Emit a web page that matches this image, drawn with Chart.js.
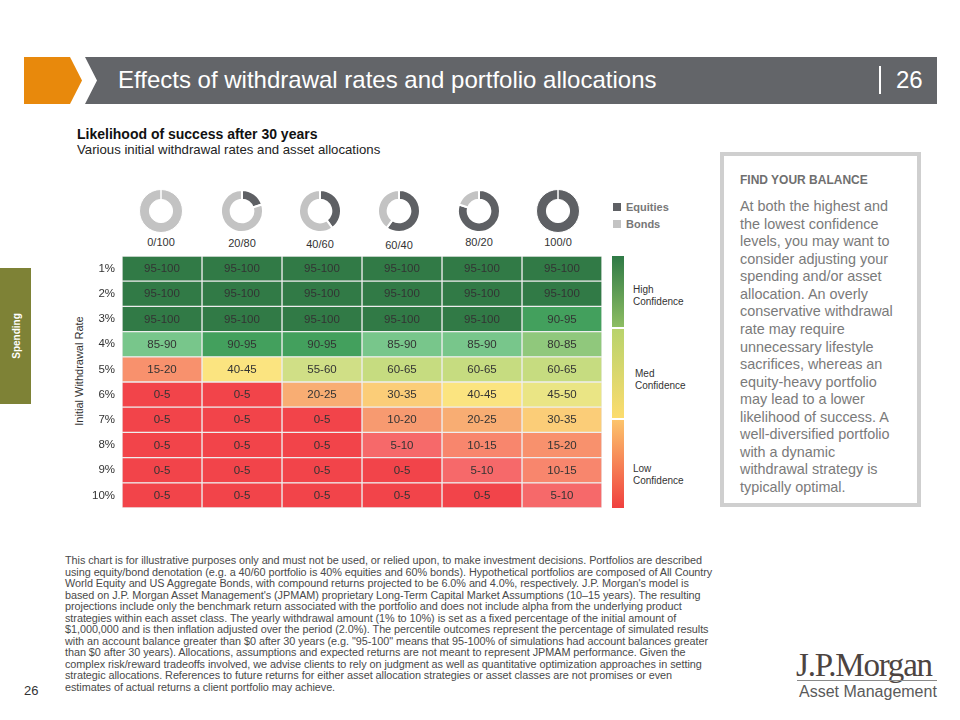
<!DOCTYPE html>
<html>
<head>
<meta charset="utf-8">
<script src="https://cdn.jsdelivr.net/npm/chart.js@4/dist/chart.umd.min.js"></script>
<style>
  html, body { margin:0; padding:0; background:#fff; }
  body { width:960px; height:720px; position:relative; overflow:hidden; font-family:"Liberation Sans", Arial, sans-serif; }
  .abs { position:absolute; white-space:nowrap; }
  #orange { left:24px; top:57px; width:58px; height:47px; background:#e8890c;
            clip-path: polygon(0 0, 46px 0, 58px 23.5px, 46px 47px, 0 47px); }
  #graybar { left:85px; top:57px; width:852px; height:47px; background:#636569;
            clip-path: polygon(0 0, 852px 0, 852px 47px, 0 47px, 12px 23.5px); }
  #htitle { left:118px; top:65px; font-size:24px; line-height:30px; color:#fff; }
  #hsep { left:879px; top:66px; width:2px; height:28px; background:#fff; }
  #hnum { left:896px; top:65px; font-size:24px; line-height:30px; color:#fff; }
  #tab { left:0; top:268px; width:31px; height:136px; background:#7e8236; }
  #tabtxt { left:16px; top:336px; transform:translate(-50%,-50%) rotate(-90deg); color:#fff; font-weight:bold; font-size:10px; }
  #ctitle { left:77px; top:126px; font-size:14px; font-weight:bold; color:#111; line-height:17px; }
  #csub { left:77px; top:141px; font-size:13.2px; color:#222; line-height:17px; }
  .donut { position:absolute; width:44px; height:44px; }
  .dlabel { position:absolute; font-size:11px; color:#333; transform:translateX(-50%); white-space:nowrap; line-height:13px; }
  .leg { position:absolute; font-size:11px; font-weight:bold; color:#777; line-height:13px; }
  .sq { position:absolute; width:8px; height:8px; }
  #ytitle { left:79px; top:371px; transform:translate(-50%,-50%) rotate(-90deg); font-size:11px; color:#333; }
  #heat { position:absolute; left:70px; top:256px; }
  .gseg { position:absolute; left:612px; width:12px; }
  .conf { position:absolute; font-size:10px; color:#333; line-height:11.5px; }
  #box { left:720px; top:152px; width:193px; height:347px; border:4px solid #cfcfcf; }
  #boxtitle { left:740px; top:173px; font-size:12px; font-weight:bold; color:#6f6f6f; line-height:14px; }
  #boxtxt { left:740px; top:198px; font-size:14.4px; color:#7a7a7a; line-height:17.56px; }
  #foot { left:65px; top:555px; font-size:10.85px; color:#4a4a4a; line-height:11.55px; letter-spacing:-0.05px; }
  #pnum { left:24px; top:683px; font-size:13px; color:#333; }
  #logo1 { left:796px; top:648px; font-family:"Liberation Serif","DejaVu Serif",serif; font-size:33px; color:#4d4441; letter-spacing:-1.2px; line-height:34px; }
  #logoline { left:797px; top:680px; width:140px; height:1px; background:#8a8a8a; }
  #logo2 { left:799px; top:683px; font-size:16px; color:#5a5a5a; line-height:18px; }
</style>
</head>
<body>
<div id="orange" class="abs"></div>
<div id="graybar" class="abs"></div>
<div id="htitle" class="abs">Effects of withdrawal rates and portfolio allocations</div>
<div id="hsep" class="abs"></div>
<div id="hnum" class="abs">26</div>
<div id="tab" class="abs"></div>
<div id="tabtxt" class="abs">Spending</div>
<div id="ctitle" class="abs">Likelihood of success after 30 years</div>
<div id="csub" class="abs">Various initial withdrawal rates and asset allocations</div>
<div id="ytitle" class="abs">Initial Withdrawal Rate</div>

<div class="sq" style="left:613px;top:203px;background:#5e6064"></div>
<div class="leg" style="left:626px;top:201px">Equities</div>
<div class="sq" style="left:613px;top:220px;background:#c3c3c3"></div>
<div class="leg" style="left:626px;top:218px">Bonds</div>

<div class="gseg" style="top:256px;height:71px;background:linear-gradient(#2f7a46,#8dbd62)"></div>
<div class="gseg" style="top:329px;height:89px;background:linear-gradient(#b8d36c,#fcdc6e)"></div>
<div class="gseg" style="top:420px;height:88px;background:linear-gradient(#fcc46c,#f0403f)"></div>
<div class="conf" style="left:633px;top:284px">High<br>Confidence</div>
<div class="conf" style="left:635px;top:368px">Med<br>Confidence</div>
<div class="conf" style="left:633px;top:463px">Low<br>Confidence</div>

<canvas id="heat" width="532" height="252"></canvas>

<div id="box" class="abs"></div>
<div id="boxtitle" class="abs">FIND YOUR BALANCE</div>
<div id="boxtxt" class="abs">At both the highest and<br>the lowest confidence<br>levels, you may want to<br>consider adjusting your<br>spending and/or asset<br>allocation. An overly<br>conservative withdrawal<br>rate may require<br>unnecessary lifestyle<br>sacrifices, whereas an<br>equity-heavy portfolio<br>may lead to a lower<br>likelihood of success. A<br>well-diversified portfolio<br>with a dynamic<br>withdrawal strategy is<br>typically optimal.</div>

<div id="foot" class="abs">This chart is for illustrative purposes only and must not be used, or relied upon, to make investment decisions. Portfolios are described<br>using equity/bond denotation (e.g. a 40/60 portfolio is 40% equities and 60% bonds). Hypothetical portfolios are composed of All Country<br>World Equity and US Aggregate Bonds, with compound returns projected to be 6.0% and 4.0%, respectively. J.P. Morgan's model is<br>based on J.P. Morgan Asset Management's (JPMAM) proprietary Long-Term Capital Market Assumptions (10–15 years). The resulting<br>projections include only the benchmark return associated with the portfolio and does not include alpha from the underlying product<br>strategies within each asset class. The yearly withdrawal amount (1% to 10%) is set as a fixed percentage of the initial amount of<br>$1,000,000 and is then inflation adjusted over the period (2.0%). The percentile outcomes represent the percentage of simulated results<br>with an account balance greater than $0 after 30 years (e.g. "95-100" means that 95-100% of simulations had account balances greater<br>than $0 after 30 years). Allocations, assumptions and expected returns are not meant to represent JPMAM performance. Given the<br>complex risk/reward tradeoffs involved, we advise clients to rely on judgment as well as quantitative optimization approaches in setting<br>strategic allocations. References to future returns for either asset allocation strategies or asset classes are not promises or even<br>estimates of actual returns a client portfolio may achieve.</div>

<div id="pnum" class="abs">26</div>
<div id="logo1" class="abs">J.P.Morgan</div>
<div id="logoline" class="abs"></div>
<div id="logo2" class="abs">Asset Management</div>

<script>
// ---- data ----
const allocations = ['0/100', '20/80', '40/60', '60/40', '80/20', '100/0'];
const equityShare = [0, 20, 40, 60, 80, 100];
const bondShare = [100, 80, 60, 40, 20, 0];
const withdrawalRates = ['1%', '2%', '3%', '4%', '5%', '6%', '7%', '8%', '9%', '10%'];
const success0_100  = ['95-100', '95-100', '95-100', '85-90', '15-20', '0-5', '0-5', '0-5', '0-5', '0-5'];
const success20_80  = ['95-100', '95-100', '95-100', '90-95', '40-45', '0-5', '0-5', '0-5', '0-5', '0-5'];
const success40_60  = ['95-100', '95-100', '95-100', '90-95', '55-60', '20-25', '0-5', '0-5', '0-5', '0-5'];
const success60_40  = ['95-100', '95-100', '95-100', '85-90', '60-65', '30-35', '10-20', '5-10', '0-5', '0-5'];
const success80_20  = ['95-100', '95-100', '95-100', '85-90', '60-65', '40-45', '20-25', '10-15', '5-10', '0-5'];
const success100_0  = ['95-100', '95-100', '90-95', '80-85', '60-65', '45-50', '30-35', '15-20', '10-15', '5-10'];
const successByAllocation = [success0_100, success20_80, success40_60, success60_40, success80_20, success100_0];

// ---- styles ----
const rangeColors = {
  '95-100': '#317a46', '90-95': '#43a05d', '85-90': '#78c68b', '80-85': '#90c87c',
  '60-65': '#c6dc80', '55-60': '#d0df86', '45-50': '#eae585', '40-45': '#fbe480',
  '30-35': '#fbcd78', '20-25': '#f8ad73', '15-20': '#f8916d', '10-20': '#f79a70',
  '10-15': '#f8866d', '5-10': '#f6696a', '0-5': '#f2444a'
};
const FONT = '"Liberation Sans", Arial, sans-serif';
Chart.defaults.font.family = FONT;

// ---- donuts ----
const donutCenters = [161, 242, 320, 399, 479, 558];
const labelTops = [236, 237, 238, 239, 236, 236];
allocations.forEach((a, i) => {
  const c = document.createElement('canvas');
  c.className = 'donut';
  c.width = 44; c.height = 44;
  c.style.left = (donutCenters[i] - 22) + 'px';
  c.style.top = (211 - 22) + 'px';
  document.body.appendChild(c);
  new Chart(c, {
    type: 'doughnut',
    data: { labels: ['Equities', 'Bonds'],
      datasets: [{ data: [equityShare[i], bondShare[i]], backgroundColor: ['#5e6064', '#c3c3c3'],
                   borderColor: '#ffffff', borderWidth: bondShare[i] === 0 || equityShare[i] === 0 ? 1 : 2 }] },
    options: { responsive: false, animation: false, cutout: '54%',
      plugins: { legend: { display: false }, tooltip: { enabled: false } } }
  });
  const l = document.createElement('div');
  l.className = 'dlabel';
  l.textContent = a;
  l.style.left = donutCenters[i] + 'px';
  l.style.top = labelTops[i] + 'px';
  document.body.appendChild(l);
});

// ---- heatmap ----
const cellLabels = {
  id: 'cellLabels',
  afterDatasetsDraw(chart) {
    const ctx = chart.ctx;
    ctx.save();
    ctx.font = '11.5px ' + FONT;
    ctx.fillStyle = '#333';
    ctx.textAlign = 'center';
    ctx.textBaseline = 'middle';
    chart.data.datasets.forEach((ds, di) => {
      chart.getDatasetMeta(di).data.forEach((el, ri) => {
        const p = el.getCenterPoint();
        ctx.fillText(ds.labelsText[ri], p.x, p.y + 0.5);
      });
    });
    ctx.restore();
  }
};

new Chart(document.getElementById('heat'), {
  type: 'bar',
  data: {
    labels: withdrawalRates,
    datasets: successByAllocation.map((vals, c) => ({
      label: allocations[c],
      data: vals.map(() => [c, c + 1]),
      labelsText: vals,
      backgroundColor: vals.map(v => rangeColors[v]),
      borderColor: '#eeeeee',
      borderWidth: 1,
      borderSkipped: false,
      grouped: false,
      barPercentage: 1,
      categoryPercentage: 1
    }))
  },
  options: {
    indexAxis: 'y',
    responsive: false,
    animation: false,
    layout: { padding: 0 },
    scales: {
      x: { type: 'linear', min: 0, max: allocations.length, display: false },
      y: {
        type: 'category',
        grid: { display: false, drawTicks: false },
        border: { display: false },
        ticks: { color: '#333', font: { size: 11.5 }, padding: 7 },
        afterFit(s) { s.width = 52; s.paddingTop = 0; s.paddingBottom = 0; }
      }
    },
    plugins: { legend: { display: false }, tooltip: { enabled: false } }
  },
  plugins: [cellLabels]
});
</script>
</body>
</html>
